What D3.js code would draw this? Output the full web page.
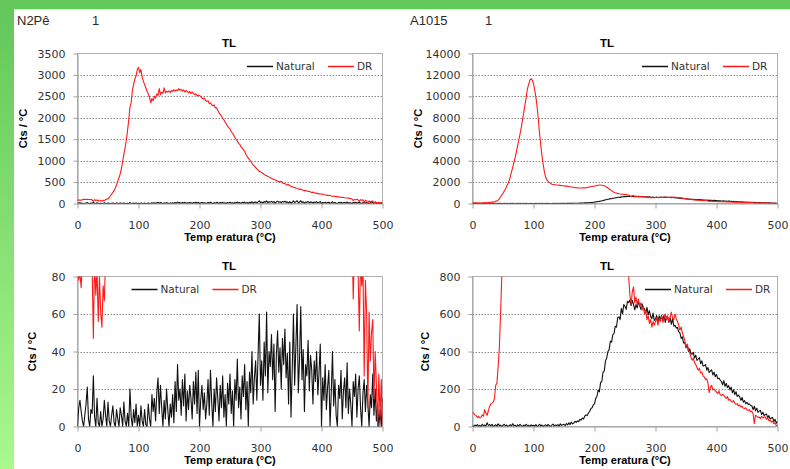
<!DOCTYPE html>
<html><head><meta charset="utf-8">
<script src="https://cdn.jsdelivr.net/npm/d3@7"></script>
<style>
html,body{margin:0;padding:0;background:#fff;}
svg{display:block;}
</style></head><body>
<svg id="chart" width="790" height="469"></svg>
<script>
// Temperature grid (°C), 2 °C steps
const temps = d3.range(0, 501, 2);
const xTicks = [0, 100, 200, 300, 400, 500];

// Sample N2Pê — Natural TL (Cts/°C)
const n2pNatural = [
  0, 10, 14, 8, 3, 0, 6, 12, 21, 4, 0, 9, 7, 27, 5, 0, 15, 2, 0, 8, 0, 4, 14, 6, 0,
  13, 3, 0, 6, 11, 2, 0, 9, 4, 0, 10, 6, 0, 13, 3, 0, 7, 0, 20, 5, 0, 9, 2, 12, 0,
  6, 0, 11, 3, 0, 9, 1, 0, 12, 4, 0, 17, 8, 15, 3, 18, 26, 7, 22, 10, 0, 14, 4, 20, 9,
  0, 12, 5, 17, 2, 24, 8, 33, 14, 20, 6, 25, 11, 28, 3, 19, 9, 22, 15, 4, 24, 12, 29, 7, 30,
  0, 14, 22, 9, 18, 4, 12, 25, 6, 30, 13, 0, 20, 8, 26, 15, 3, 22, 10, 27, 5, 17, 0, 23, 12,
  28, 7, 19, 0, 25, 14, 36, 10, 21, 4, 27, 16, 33, 9, 24, 0, 29, 18, 40, 12, 26, 35, 14, 38, 60,
  22, 35, 14, 45, 27, 61, 18, 40, 32, 49, 25, 44, 8, 38, 51, 29, 42, 20, 47, 33, 52, 26, 39, 12, 45,
  5, 30, 60, 22, 43, 65, 18, 36, 64, 25, 41, 8, 33, 27, 46, 19, 38, 30, 12, 35, 24, 40, 17, 29, 44,
  0, 26, 14, 33, 9, 21, 30, 0, 18, 40, 11, 25, 6, 0, 22, 15, 30, 4, 19, 26, 10, 34, 7, 20, 12,
  0, 24, 16, 28, 5, 20, 27, 10, 0, 18, 25, 8, 22, 12, 0, 17, 10, 28, 6, 20, 3, 12, 0, 9, 0, 15
];
// Sample N2Pê — DR TL (Cts/°C)
const n2pDR = [
  85, 78, 82, 74, 88, 96, 100, 94, 98, 92, 95, 90, 85, 47, 90, 70, 84, 56, 80, 61, 53, 75, 67, 90, 100,
  110, 140, 180, 220, 260, 300, 360, 430, 520, 600, 690, 820, 980, 1150, 1300, 1470, 1700, 1950, 2250, 2350, 2640, 2780, 2900, 2980, 3120,
  3180, 3050, 3130, 2950, 2850, 2780, 2700, 2620, 2560, 2480, 2350, 2450, 2400, 2500, 2460, 2560, 2520, 2680, 2540, 2600, 2570, 2700, 2580, 2620, 2600,
  2630, 2590, 2640, 2610, 2660, 2620, 2650, 2630, 2680, 2640, 2660, 2620, 2650, 2600, 2640, 2610, 2580, 2620, 2560, 2600, 2570, 2540, 2560, 2510, 2530,
  2520, 2500, 2460, 2440, 2460, 2400, 2380, 2400, 2330, 2350, 2300, 2280, 2300, 2230, 2240, 2170, 2120, 2080, 2040, 1990, 1950, 1900, 1860, 1800, 1770,
  1740, 1680, 1640, 1600, 1540, 1500, 1460, 1400, 1380, 1320, 1300, 1250, 1220, 1150, 1100, 1060, 1020, 980, 940, 900, 870, 840, 810, 780, 750,
  740, 720, 700, 680, 660, 650, 630, 620, 600, 590, 570, 560, 550, 540, 520, 510, 500, 520, 480, 470, 460, 450, 430, 440, 420,
  400, 390, 380, 370, 360, 355, 340, 330, 335, 320, 310, 300, 305, 290, 280, 285, 270, 260, 265, 250, 240, 245, 230, 225, 220,
  215, 220, 205, 200, 195, 190, 185, 190, 175, 170, 172, 165, 160, 155, 158, 148, 145, 140, 142, 135, 130, 128, 125, 118, 115,
  105, 68, 95, 88, 100, 82, 51, 90, 75, 85, 27, 78, 60, 10, 61, 35, 50, 57, 15, 40, 22, 0, 28, 5, 25, 0
];
// Sample A1015 — Natural TL (Cts/°C)
const a1015Natural = [
  5, 0, 8, 3, 10, 2, 6, 0, 12, 4, 8, 2, 20, 6, 10, 3, 12, 0, 5, 9, 2, 14, 4, 8, 0,
  6, 12, 3, 8, 0, 5, 10, 2, 15, 4, 7, 0, 9, 3, 11, 5, 0, 8, 2, 12, 4, 6, 0, 9, 3,
  7, 2, 10, 0, 5, 12, 3, 8, 0, 6, 9, 2, 11, 4, 0, 7, 13, 3, 8, 5, 10, 2, 14, 6, 9,
  12, 4, 16, 8, 20, 10, 24, 14, 18, 28, 22, 30, 26, 38, 34, 45, 40, 55, 62, 58, 72, 80, 95, 100, 115,
  121, 150, 160, 195, 185, 235, 240, 290, 295, 350, 365, 400, 410, 455, 450, 490, 495, 535, 530, 580, 585, 570, 630, 600, 650,
  640, 625, 668, 660, 675, 645, 672, 650, 622, 650, 632, 665, 645, 625, 655, 632, 628, 605, 636, 595, 618, 588, 575, 605, 565,
  575, 592, 555, 590, 570, 592, 562, 595, 555, 585, 580, 555, 580, 545, 575, 535, 540, 525, 528, 505, 500, 470, 478, 445, 448,
  420, 435, 400, 415, 388, 385, 395, 365, 380, 352, 360, 368, 335, 350, 322, 325, 330, 300, 315, 288, 296, 302, 275, 290, 265,
  278, 255, 258, 248, 240, 222, 245, 214, 230, 208, 218, 195, 210, 180, 196, 170, 185, 160, 168, 158, 140, 155, 130, 138, 122,
  128, 118, 120, 112, 110, 90, 108, 84, 98, 76, 82, 86, 64, 76, 58, 64, 66, 46, 58, 40, 46, 48, 26, 38, 18, 28
];
// Sample A1015 — DR TL (Cts/°C)
const a1015DR = [
  75, 70, 62, 58, 48, 55, 45, 50, 62, 55, 90, 70, 60, 85, 105, 120, 125, 130, 150, 220, 230, 318, 420, 600, 800,
  950, 1150, 1350, 1600, 1850, 2125, 2500, 2950, 3400, 3850, 4300, 4850, 5400, 5950, 6500, 7100, 7800, 8500, 9200, 9900, 10700, 11100, 11500, 11650, 11500,
  11200, 10600, 9900, 9000, 7800, 6500, 5400, 4400, 3600, 2900, 2440, 2200, 2050, 1950, 1880, 1800, 1780, 1760, 1750, 1720, 1700, 1720, 1680, 1670, 1660,
  1650, 1620, 1640, 1600, 1580, 1560, 1540, 1520, 1500, 1480, 1470, 1460, 1450, 1440, 1450, 1440, 1460, 1450, 1480, 1500, 1520, 1550, 1570, 1600, 1610,
  1620, 1650, 1680, 1700, 1720, 1720, 1700, 1680, 1650, 1600, 1520, 1440, 1360, 1280, 1200, 1120, 1060, 1010, 970, 940, 910, 890, 870, 860, 850,
  840, 830, 815, 800, 700, 650, 720, 745, 660, 690, 650, 680, 640, 660, 620, 640, 600, 620, 570, 590, 550, 570, 530, 560, 540,
  560, 580, 540, 575, 560, 590, 555, 577, 600, 570, 590, 560, 585, 610, 580, 568, 600, 575, 560, 540, 514, 530, 500, 480, 460,
  425, 440, 410, 395, 370, 354, 365, 340, 330, 315, 300, 310, 285, 290, 270, 264, 250, 255, 230, 180, 210, 220, 195, 200, 190,
  184, 175, 190, 170, 165, 172, 166, 158, 150, 160, 140, 145, 135, 130, 138, 125, 118, 122, 110, 115, 104, 108, 98, 95, 100,
  88, 85, 90, 78, 82, 68, 15, 60, 55, 48, 50, 42, 55, 45, 52, 50, 38, 45, 30, 35, 23, 28, 15, 20, 5, 5
];

// Y tick labels per panel
const yTicksN2PFull = [0, 500, 1000, 1500, 2000, 2500, 3000, 3500];
const yTicksA1015Full = [0, 2000, 4000, 6000, 8000, 10000, 12000, 14000];
const yTicksN2PZoom = [0, 20, 40, 60, 80];
const yTicksA1015Zoom = [0, 200, 400, 600, 800];

const seriesNames = ["Natural", "DR"];
const headers = [
  {text: "N2Pê", x: 17}, {text: "1", x: 92},
  {text: "A1015", x: 410}, {text: "1", x: 485}
];

const panels = [
  {left: 77.5, top: 53.5, natural: n2pNatural, dr: n2pDR, ticks: yTicksN2PFull,
   titleX: 229, yTitleX: 23, legendX: 247},
  {left: 472.5, top: 53.5, natural: a1015Natural, dr: a1015DR, ticks: yTicksA1015Full,
   titleX: 607, yTitleX: 418, legendX: 642},
  {left: 77.5, top: 276.5, natural: n2pNatural, dr: n2pDR, ticks: yTicksN2PZoom,
   titleX: 229, yTitleX: 32, legendX: 131.5},
  {left: 472.5, top: 276.5, natural: a1015Natural, dr: a1015DR, ticks: yTicksA1015Zoom,
   titleX: 607, yTitleX: 425, legendX: 645}
];
const PW = 305, PH = 150;
const COLORS = {Natural: "#111", DR: "#ff1a1a"};

const svg = d3.select("#chart");
const defs = svg.append("defs");
const grad = defs.append("linearGradient").attr("id", "side")
  .attr("x1", 0).attr("y1", 0).attr("x2", 0).attr("y2", 1);
grad.append("stop").attr("offset", "0%").attr("stop-color", "#62c65a");
grad.append("stop").attr("offset", "100%").attr("stop-color", "#a9f98b");

svg.append("rect").attr("width", 790).attr("height", 469).attr("fill", "#fff");
svg.append("rect").attr("x", 0).attr("y", 0).attr("width", 14).attr("height", 469).attr("fill", "url(#side)");
svg.append("rect").attr("x", 0).attr("y", 0).attr("width", 790).attr("height", 9).attr("fill", "#64c85b");
svg.append("rect").attr("x", 14).attr("y", 9).attr("width", 776).attr("height", 1.3).attr("fill", "#d3e4ee");

svg.selectAll(".hdr").data(headers).join("text")
  .attr("x", d => d.x).attr("y", 20).attr("dy", "0.35em")
  .attr("font-family", "Liberation Sans, Arial, sans-serif").attr("font-size", 13)
  .attr("fill", "#2a2a2a").text(d => d.text);

panels.forEach((p, i) => {
  const yMax = p.ticks[p.ticks.length - 1];
  const x = d3.scaleLinear().domain([0, 500]).range([p.left, p.left + PW]);
  const y = d3.scaleLinear().domain([0, yMax]).range([p.top + PH, p.top]);
  const g = svg.append("g");

  // gridlines
  g.selectAll(".grid").data(p.ticks.filter(t => t > 0 && t < yMax)).join("line")
    .attr("x1", p.left).attr("x2", p.left + PW)
    .attr("y1", d => Math.round(y(d)) + 0.5).attr("y2", d => Math.round(y(d)) + 0.5)
    .attr("stroke", "#8a8a8a").attr("stroke-dasharray", "1.5,1.5");

  // frame
  g.append("rect").attr("x", p.left).attr("y", p.top).attr("width", PW).attr("height", PH)
    .attr("fill", "none").attr("stroke", "#b0b0b0");

  // axes
  const xa = g.append("g").attr("transform", `translate(0,${p.top + PH})`)
    .call(d3.axisBottom(x).tickValues(xTicks).tickSize(5).tickSizeOuter(0).tickPadding(12).tickFormat(d3.format("d")));
  const ya = g.append("g").attr("transform", `translate(${p.left},0)`)
    .call(d3.axisLeft(y).tickValues(p.ticks).tickSize(4).tickSizeOuter(0).tickPadding(8).tickFormat(d3.format("d")));
  [xa, ya].forEach(a => {
    a.select(".domain").attr("stroke", "#a0a0a0");
    a.selectAll(".tick line").attr("stroke", "#a0a0a0");
    a.selectAll(".tick text").attr("font-family", "DejaVu Sans, Verdana, sans-serif")
      .attr("font-size", 11).attr("fill", "#333");
  });
  xa.selectAll(".tick text").attr("dy", "0.35em").attr("y", 22);

  // data lines
  const cid = "clip" + i;
  defs.append("clipPath").attr("id", cid).append("rect")
    .attr("x", p.left).attr("y", p.top).attr("width", PW).attr("height", PH);
  const line = d3.line().x((d, j) => x(temps[j])).y(d => y(d));
  const lg = g.append("g").attr("clip-path", `url(#${cid})`);
  lg.append("path").datum(p.natural).attr("d", line).attr("fill", "none")
    .attr("stroke", COLORS.Natural).attr("stroke-width", 1.1).attr("stroke-linejoin", "round");
  lg.append("path").datum(p.dr).attr("d", line).attr("fill", "none")
    .attr("stroke", COLORS.DR).attr("stroke-width", 1.1).attr("stroke-linejoin", "round");

  // title
  g.append("text").attr("x", p.titleX).attr("y", p.top - 11).attr("dy", "0.35em")
    .attr("text-anchor", "middle").attr("font-family", "Liberation Sans, Arial, sans-serif")
    .attr("font-weight", "bold").attr("font-size", 11.5).attr("fill", "#000").text("TL");
  // x axis title
  g.append("text").attr("x", p.left + PW / 2).attr("y", p.top + PH + 34).attr("dy", "0.35em")
    .attr("text-anchor", "middle").attr("font-family", "Liberation Sans, Arial, sans-serif")
    .attr("font-weight", "bold").attr("font-size", 11).attr("fill", "#000").text("Temp eratura (°C)");
  // y axis title
  g.append("text").attr("transform", `translate(${p.yTitleX},${p.top + PH / 2}) rotate(-90)`)
    .attr("dy", "0.35em").attr("text-anchor", "middle")
    .attr("font-family", "Liberation Sans, Arial, sans-serif")
    .attr("font-weight", "bold").attr("font-size", 11).attr("fill", "#000").text("Cts / °C");

  // legend
  const ly = p.top + 13;
  const leg = g.selectAll(".leg").data(seriesNames).join("g")
    .attr("transform", (d, k) => `translate(${p.legendX + k * 81},${ly})`);
  leg.append("line").attr("x1", 0).attr("x2", 26).attr("y1", 0).attr("y2", 0)
    .attr("stroke", d => COLORS[d]).attr("stroke-width", 1.5);
  leg.append("text").attr("x", 29).attr("y", 0).attr("dy", "0.35em")
    .attr("font-family", "DejaVu Sans, Verdana, sans-serif").attr("font-size", 10.5)
    .attr("fill", "#333").text(d => d);
});
</script>
</body></html>
